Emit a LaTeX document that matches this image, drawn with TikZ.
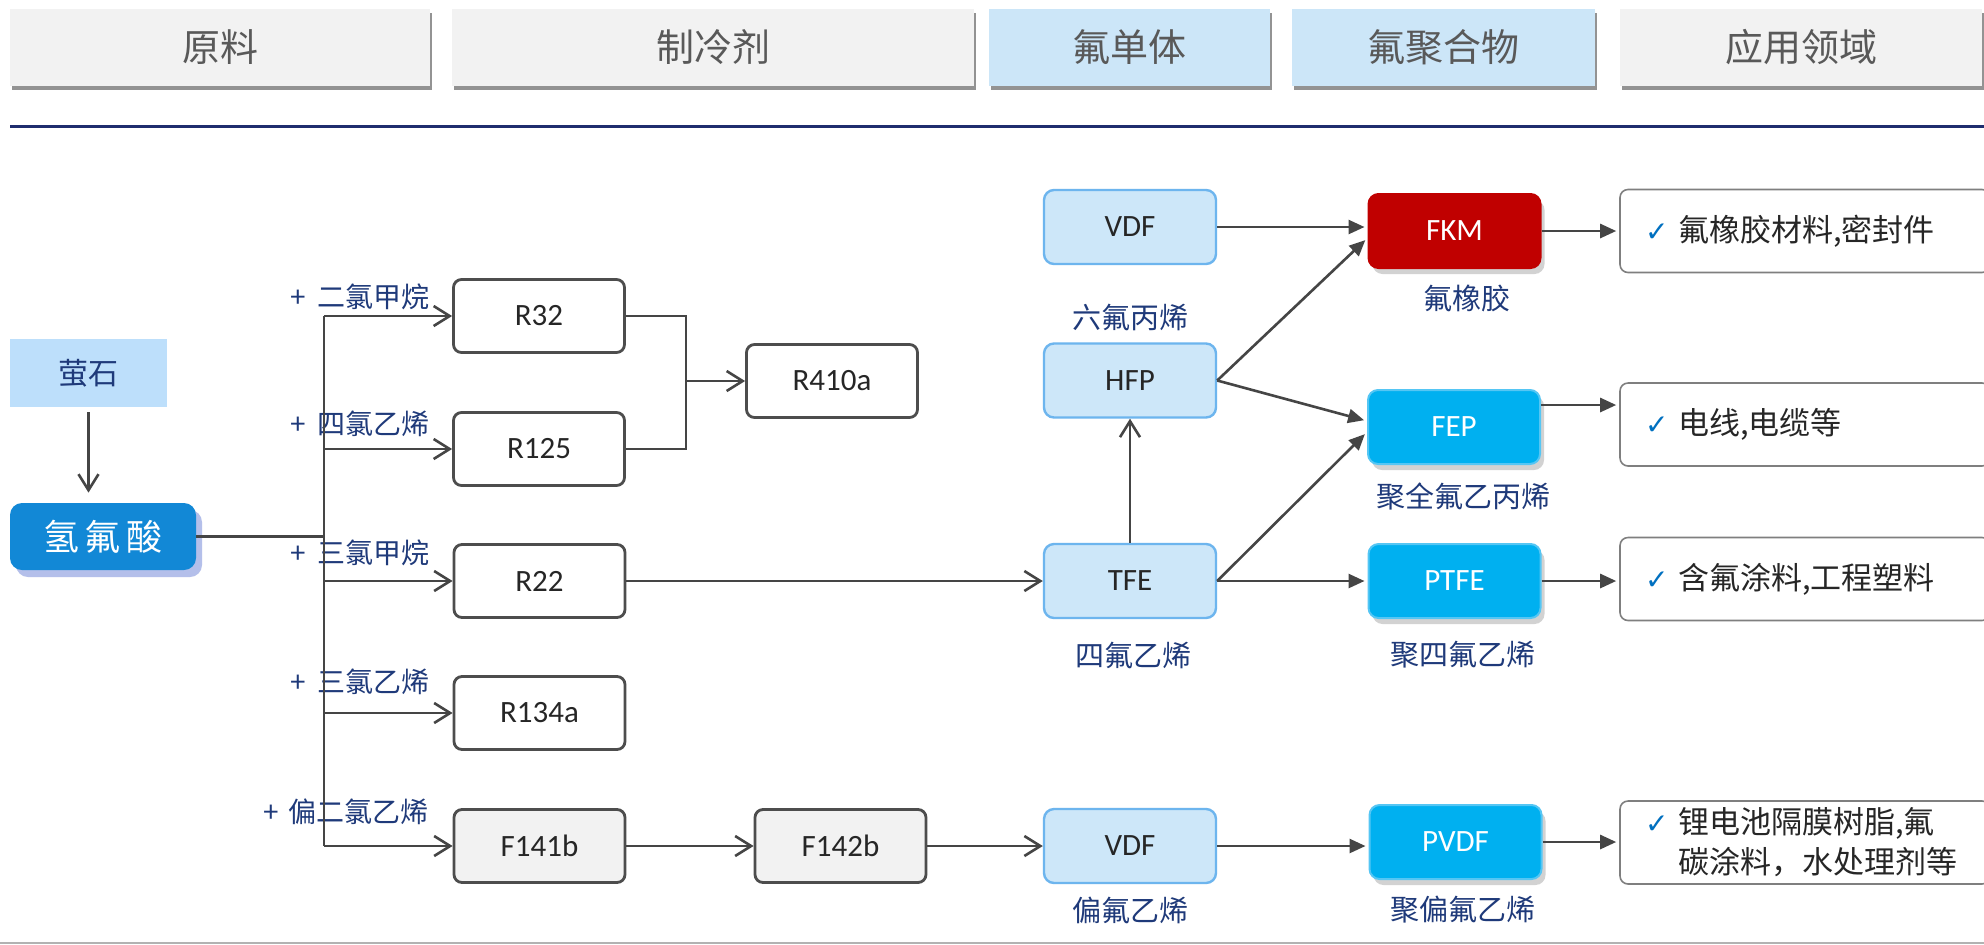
\documentclass[tikz,border=0pt]{standalone}
\usepackage{fontspec}
\setmainfont{Carlito}
\newfontfamily\cjk{Noto Sans CJK SC}
\newfontfamily\symf{DejaVu Sans}
\usetikzlibrary{arrows.meta,shadows,calc}
\definecolor{hdrgray}{HTML}{F2F2F2}
\definecolor{hdrblue}{HTML}{CCE6F8}
\definecolor{hdrtext}{HTML}{595959}
\definecolor{navyline}{HTML}{1F2D6E}
\definecolor{ysfill}{HTML}{BDDFFB}
\definecolor{hffill}{HTML}{1288D6}
\definecolor{hfshadow}{HTML}{B4BFEA}
\definecolor{boxgray}{HTML}{4D4D4D}
\definecolor{linegray}{HTML}{454545}
\definecolor{monofill}{HTML}{CDE7F9}
\definecolor{monoborder}{HTML}{6DB5EE}
\definecolor{fkmred}{HTML}{C00000}
\definecolor{polyblue}{HTML}{00B0F0}
\definecolor{polyborder}{HTML}{55C6F4}
\definecolor{labnavy}{HTML}{1F3A7A}
\definecolor{appborder}{HTML}{7F7F7F}
\definecolor{checkblue}{HTML}{0070C0}
\definecolor{apptext}{HTML}{262626}
\newcommand\mychk{\makebox[16.5pt][l]{\textcolor{checkblue}{\symf\fontsize{14pt}{16pt}\selectfont ✓}}}
\begin{document}
\begin{tikzpicture}[x=0.5pt,y=-0.5pt,
  hdr/.style={rectangle, inner sep=0pt, minimum height=38.5pt, font=\cjk\fontsize{19pt}{22pt}\selectfont, text=hdrtext,
    drop shadow={shadow xshift=1.2pt, shadow yshift=-2pt, fill=black!60, opacity=0.7}},
  refbox/.style={draw=boxgray, line width=1.4pt, rounded corners=4pt, fill=white, minimum width=85.5pt, minimum height=36.5pt,
    inner sep=0pt, font=\fontsize{15.5pt}{18pt}\selectfont, text=black!85},
  monobox/.style={draw=monoborder, line width=1.2pt, rounded corners=5pt, fill=monofill, minimum width=86pt, minimum height=37pt,
    inner sep=0pt, font=\fontsize{15.5pt}{18pt}\selectfont, text=black!85},
  polybox/.style={draw=polyborder, line width=1pt, rounded corners=5pt, fill=polyblue, minimum width=86pt, minimum height=37pt,
    inner sep=0pt, font=\fontsize{15.5pt}{18pt}\selectfont, text=white,
    drop shadow={shadow xshift=2pt, shadow yshift=-3pt, fill=black!50, opacity=0.35}},
  appbox/.style={draw=appborder, line width=0.8pt, rounded corners=4pt, fill=white, text width=160pt, inner xsep=12.5pt,
    align=left, font=\cjk\fontsize{15.5pt}{20pt}\selectfont, text=apptext},
  lab/.style={font=\cjk\fontsize{14.5pt}{17pt}\selectfont, text=labnavy, inner sep=0pt},
  plab/.style={font=\cjk\fontsize{14pt}{17pt}\selectfont, text=labnavy, inner sep=0pt, anchor=west},
  conn/.style={draw=linegray, line width=1.3pt},
  oarr/.style={conn, -{Straight Barb[length=8pt,width=10pt]}},
  farr/.style={conn, -{Triangle[length=8pt,width=7pt]}, shorten >=1.5pt}
]
\useasboundingbox (0,0) rectangle (1984,944);
\clip (0,0) rectangle (1984,944);
\fill[white] (0,0) rectangle (1984,944);

% headers
\node[hdr, fill=hdrgray, minimum width=210pt] (h1) at (220,47.5) {原料};
\node[hdr, fill=hdrgray, minimum width=261pt] (h2) at (713,47.5) {制冷剂};
\node[hdr, fill=hdrblue, minimum width=140.5pt] (h3) at (1129.5,47.5) {氟单体};
\node[hdr, fill=hdrblue, minimum width=151.5pt] (h4) at (1443.5,47.5) {氟聚合物};
\node[hdr, fill=hdrgray, minimum width=181pt] (h5) at (1801,47.5) {应用领域};

\coordinate (dl) at (10,126.5);
\coordinate (dr) at (1984,126.5);
\draw[navyline, line width=1.5pt] (dl) -- (dr);
\coordinate (bl) at (0,942.5);
\coordinate (br) at (1984,942.5);
\draw[black!30, line width=1pt] (bl) -- (br);

% raw materials
\node[fill=ysfill, minimum width=78.5pt, minimum height=34pt, inner sep=0pt, font=\cjk\fontsize{15pt}{18pt}\selectfont, text=labnavy] (ys) at (88.5,373) {萤石};
\node[fill=hffill, rounded corners=6pt, minimum width=93pt, minimum height=33.5pt, inner sep=0pt,
  font=\cjk\fontsize{18pt}{21pt}\selectfont, text=white,
  drop shadow={shadow xshift=3pt, shadow yshift=-3.5pt, fill=hfshadow, opacity=1}] (hf) at (103,536.5) {氢\,氟\,酸};

% refrigerants
\node[refbox] (r32) at (539,316) {R32};
\node[refbox] (r125) at (539,449) {R125};
\node[refbox] (r410) at (832,381) {R410a};
\node[refbox] (r22) at (539.5,581) {R22};
\node[refbox] (r134) at (539.5,713) {R134a};
\node[refbox, fill=hdrgray] (f141) at (539.5,846) {F141b};
\node[refbox, fill=hdrgray] (f142) at (840.5,846) {F142b};

% reagent labels
\node[plab] (l1) at (290,297) {+\hspace{6pt}二氯甲烷};
\node[plab] (l2) at (290,424) {+\hspace{6pt}四氯乙烯};
\node[plab] (l3) at (290,553) {+\hspace{6pt}三氯甲烷};
\node[plab] (l4) at (290,682) {+\hspace{6pt}三氯乙烯};
\node[plab] (l5) at (263,812) {+\hspace{5pt}偏二氯乙烯};

% monomers
\node[monobox] (vdf1) at (1130,227) {VDF};
\node[monobox] (hfp) at (1130,380.5) {HFP};
\node[monobox] (tfe) at (1130,581) {TFE};
\node[monobox] (vdf2) at (1130,846) {VDF};

% polymers
\node[polybox, fill=fkmred, draw=fkmred] (fkm) at (1454.5,231) {FKM};
\node[polybox] (fep) at (1454,427) {FEP};
\node[polybox] (ptfe) at (1454.5,581) {PTFE};
\node[polybox] (pvdf) at (1455.5,842) {PVDF};

% labels
\node[lab] (t1) at (1130,317) {六氟丙烯};
\node[lab] (t2) at (1467,298) {氟橡胶};
\node[lab] (t3) at (1463,496) {聚全氟乙丙烯};
\node[lab] (t4) at (1133,655) {四氟乙烯};
\node[lab] (t5) at (1463,655) {聚四氟乙烯};
\node[lab] (t6) at (1130,910) {偏氟乙烯};
\node[lab] (t7) at (1463,910) {聚偏氟乙烯};

% applications
\node[appbox, minimum height=41.5pt] (a1) at (1805,231) {\mychk 氟橡胶材料,密封件};
\node[appbox, minimum height=41.5pt] (a2) at (1805,424.5) {\mychk 电线,电缆等};
\node[appbox, minimum height=41.5pt] (a3) at (1805,579) {\mychk 含氟涂料,工程塑料};
\node[appbox, minimum height=41.5pt] (a4) at (1805,842.5) {\mychk 锂电池隔膜树脂,氟\\\hspace*{16.5pt}碳涂料，水处理剂等};

% connectors: raw materials
\draw[oarr, shorten <=2.5pt, shorten >=5pt] (ys.south) -- (ys.south |- hf.north);
\coordinate (bus) at (324,0);
\draw[conn] (hf.east) -- (hf.east -| bus);
\draw[conn] (r32.west -| bus) -- (f141.west -| bus);
\draw[oarr] (r32.west -| bus) -- (r32.west);
\draw[oarr] (r125.west -| bus) -- (r125.west);
\draw[oarr] (r22.west -| bus) -- (r22.west);
\draw[oarr] (r134.west -| bus) -- (r134.west);
\draw[oarr] (f141.west -| bus) -- (f141.west);

% R410a merge
\coordinate (jn) at (686,0);
\draw[conn] (r32.east) -- (r32.east -| jn) -- (r125.east -| jn) -- (r125.east);
\draw[oarr] (r410.west -| jn) -- (r410.west);

% refrigerants to monomers
\draw[oarr] (r22.east) -- (r22.east -| tfe.west);
\draw[oarr] (f141.east) -- (f142.west);
\draw[oarr] (f142.east) -- (f142.east -| vdf2.west);
\draw[oarr] (tfe.north) -- (hfp.south);

% monomers to polymers
\draw[farr] (vdf1.east) -- (vdf1.east -| fkm.west);
\draw[farr] (hfp.east) -- ([yshift=-3.5pt]fkm.west);
\draw[farr] (hfp.east) -- ([yshift=3pt]fep.west);
\draw[farr] (tfe.east) -- ([yshift=-2.5pt]fep.west);
\draw[farr] (tfe.east) -- (tfe.east -| ptfe.west);
\draw[farr] (vdf2.east) -- (vdf2.east -| pvdf.west);

% polymers to applications
\draw[farr] (fkm.east) -- (fkm.east -| a1.west);
\draw[farr] ([yshift=11pt]fep.east) -- ([yshift=11pt]fep.east -| a2.west);
\draw[farr] (ptfe.east) -- (ptfe.east -| a3.west);
\draw[farr] (pvdf.east) -- (pvdf.east -| a4.west);
\end{tikzpicture}
\end{document}
